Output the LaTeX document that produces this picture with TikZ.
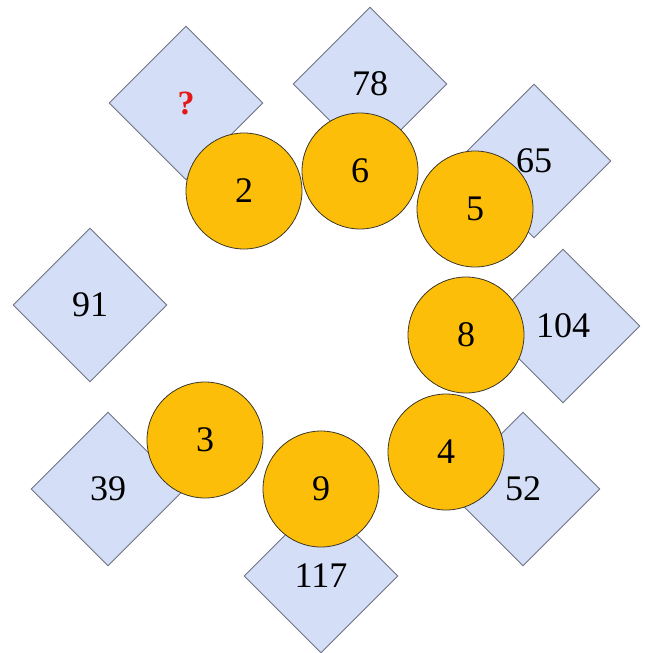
\documentclass[tikz,border=0pt]{standalone}
\usepackage{fontspec}
\setmainfont{Liberation Serif}
\usetikzlibrary{shapes.geometric}
\definecolor{tile}{RGB}{212,222,246}
\definecolor{tileedge}{RGB}{112,116,130}
\definecolor{disc}{RGB}{252,190,8}
\definecolor{discedge}{RGB}{60,55,40}
\definecolor{qred}{RGB}{228,24,24}
\tikzset{
  tilebox/.style={diamond, aspect=1, minimum width=154pt, minimum height=154pt, inner sep=0pt,
    fill=tile, draw=tileedge, line width=0.9pt, font=\fontsize{36}{40}\selectfont},
  discbox/.style={circle, minimum size=116pt, inner sep=0pt, fill=disc, draw=discedge,
    line width=0.8pt, font=\fontsize{36}{40}\selectfont},
}
\begin{document}
\begin{tikzpicture}[x=1pt,y=-1pt]
\useasboundingbox (0,0) rectangle (646,653);
% tiles
\node[tilebox] (tq)  at (186,103) {\textcolor{qred}{\bfseries\fontsize{34}{38}\selectfont ?}};
\node[tilebox] (t78) at (370,84) {78};
\node[tilebox] (t65) at (534,161) {65};
\node[tilebox] (t104) at (563,326) {104};
\node[tilebox] (t52) at (523,489) {52};
\node[tilebox] (t117) at (321,576) {117};
\node[tilebox] (t39) at (108,489) {39};
\node[tilebox] (t91) at (90,305) {91};
% discs
\node[discbox] (c2) at (244,191) {2};
\node[discbox] (c6) at (360,171) {6};
\node[discbox] (c5) at (475,209) {5};
\node[discbox] (c8) at (466,335) {8};
\node[discbox] (c4) at (446,452) {4};
\node[discbox] (c9) at (321,489) {9};
\node[discbox] (c3) at (205,440) {3};
\end{tikzpicture}
\end{document}
